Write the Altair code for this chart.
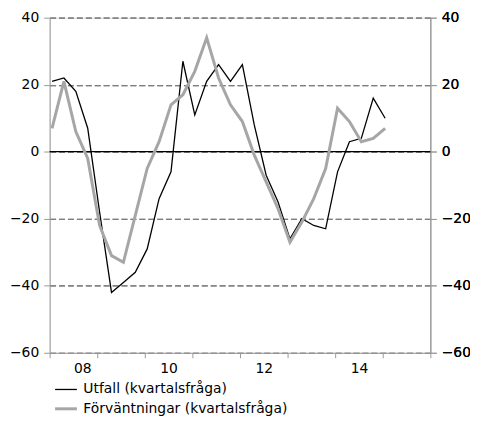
import altair as alt
import pandas as pd

quarters = [2008 + 0.25 * k + 0.05 for k in range(29)]
utfall = [21, 22, 18, 7, -18, -42, -39, -36, -29, -14, -6, 27, 11, 21, 26, 21,
          26, 8, -7, -15, -26, -20, -22, -23, -6, 3, 4, 16, 10]
forvant = [7, 21, 6, -2, -22, -31, -33, -19, -5, 3, 14, 17, 24, 34, 22, 14,
           9, -1, -9, -17, -27, -21, -14, -5, 13, 9, 3, 4, 7]
series_names = ["Utfall (kvartalsfråga)", "Förväntningar (kvartalsfråga)"]
y_ticks = [-60, -40, -20, 0, 20, 40]
x_ticks = list(range(2008, 2017))

rows = []
for t, a, b in zip(quarters, utfall, forvant):
    rows.append({"t": t, "v": a, "s": series_names[0]})
    rows.append({"t": t, "v": b, "s": series_names[1]})
df = pd.DataFrame(rows)

FONT = "DejaVu Sans"
AX = "#9a9a9a"
xscale = alt.Scale(domain=[2008, 2016], nice=False, zero=False)
yscale = alt.Scale(domain=[-60, 40], nice=False, zero=False)

xaxis = alt.Axis(values=x_ticks, format="d",
                 labelExpr="datum.value % 2 == 0 && datum.value < 2016 ? substring(datum.label, 2, 4) : ''",
                 labelOffset=24, grid=False, domainColor=AX, tickColor=AX,
                 tickSize=5, labelFont=FONT, labelFontSize=14, labelColor="#000000",
                 labelPadding=4, title=None)
yaxis_left = alt.Axis(values=y_ticks, grid=True, gridColor="#7f7f7f", gridDash=[6, 3],
                      gridWidth=1.3, domainColor=AX, tickColor=AX, tickSize=6,
                      labelFont=FONT, labelFontSize=14, labelColor="#000000", labelPadding=5,
                      title=None)
yaxis_right = alt.Axis(values=y_ticks, grid=False, orient="right", domainColor=AX,
                       tickColor=AX, tickSize=6, labelFont=FONT, labelFontSize=14,
                       labelColor="#000000", labelPadding=5, title=None)

leg = dict(title=None, orient="none", legendX=4, legendY=363,
           symbolType="stroke", symbolSize=484, labelFont=FONT, labelFontSize=14,
           labelColor="#000000", padding=0, rowPadding=-4, labelOffset=5, labelLimit=400)

lines = alt.Chart(df).mark_line().encode(
    x=alt.X("t:Q", scale=xscale, axis=xaxis),
    y=alt.Y("v:Q", scale=yscale, axis=yaxis_left),
    color=alt.Color("s:N", scale=alt.Scale(domain=series_names, range=["#000000", "#a6a6a6"]),
                    legend=alt.Legend(**leg)),
    strokeWidth=alt.StrokeWidth("s:N", scale=alt.Scale(domain=series_names, range=[1.3, 3]),
                                legend=alt.Legend(**leg)),
    order=alt.Order("s:N", sort="descending"),
)

zero = alt.Chart(pd.DataFrame({"v": [0]})).mark_rule(color="#000000", strokeWidth=1.3).encode(
    y=alt.Y("v:Q", scale=yscale, axis=yaxis_left)
)

right = alt.Chart(pd.DataFrame({"v": [0]})).mark_point(opacity=0).encode(
    y=alt.Y("v:Q", scale=yscale, axis=yaxis_right)
)

chart = alt.layer(zero, lines, right).resolve_axis(y="independent").properties(
    width=384, height=338,
    autosize=alt.AutoSizeParams(type="none"),
    padding={"left": 42, "top": 8, "right": 40, "bottom": 63},
).configure_view(stroke=None).configure(background="#ffffff")

chart.save("out.html", embed_options={"renderer": "svg", "actions": False})
